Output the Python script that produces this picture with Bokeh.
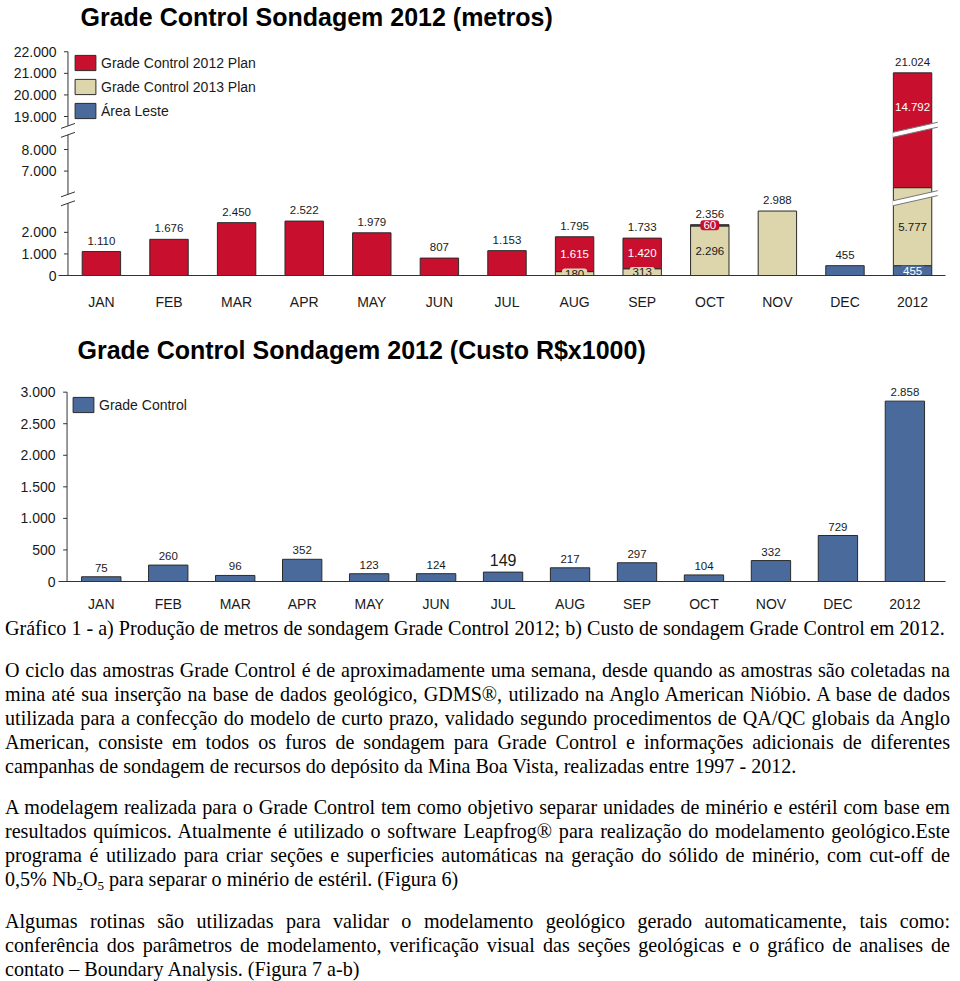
import numpy as np
from bokeh.plotting import figure
from bokeh.models import ColumnDataSource, FixedTicker, Legend, LegendItem, Range1d, Div
from bokeh.layouts import column
from bokeh.core.properties import value
from bokeh.embed import file_html
from bokeh.resources import INLINE

# ---------------- data ----------------
months = ["JAN", "FEB", "MAR", "APR", "MAY", "JUN", "JUL", "AUG", "SEP", "OCT", "NOV", "DEC", "2012"]
plan_2012 = [1110, 1676, 2450, 2522, 1979, 807, 1153, 1615, 1420, 60, 0, 0, 14792]
plan_2013 = [0, 0, 0, 0, 0, 0, 0, 180, 313, 2296, 2988, 0, 5777]
area_leste = [0, 0, 0, 0, 0, 0, 0, 0, 0, 0, 0, 455, 455]
meters_ticks = [0, 1000, 2000, 7000, 8000, 19000, 20000, 21000, 22000]
cost = [75, 260, 96, 352, 123, 124, 149, 217, 297, 104, 332, 729, 2858]
cost_ticks = [0, 500, 1000, 1500, 2000, 2500, 3000]
series_names = ["Área Leste", "Grade Control 2013 Plan", "Grade Control 2012 Plan"]
title_1 = "Grade Control Sondagem 2012 (metros)"
title_2 = "Grade Control Sondagem 2012 (Custo R$x1000)"
legend_2 = "Grade Control"
highlight_month = "JUL"

caption = "Gráfico 1 - a) Produção de metros de sondagem Grade Control 2012; b) Custo de sondagem Grade Control em 2012."
paragraphs = [
    ["O ciclo das amostras Grade Control é de aproximadamente uma semana, desde quando as amostras são coletadas na",
     "mina até sua inserção na base de dados geológico, GDMS®, utilizado na Anglo American Nióbio. A base de dados",
     "utilizada para a confecção do modelo de curto prazo, validado segundo procedimentos de QA/QC globais da Anglo",
     "American, consiste em todos os furos de sondagem para Grade Control e informações adicionais de diferentes",
     "campanhas de sondagem de recursos do depósito da Mina Boa Vista, realizadas entre 1997 - 2012."],
    ["A modelagem realizada para o Grade Control tem como objetivo separar unidades de minério e estéril com base em",
     "resultados químicos. Atualmente é utilizado o software Leapfrog® para realização do modelamento geológico.Este",
     "programa é utilizado para criar seções e superficies automáticas na geração do sólido de minério, com cut-off de",
     "0,5% Nb<sub>2</sub>O<sub>5</sub> para separar o minério de estéril. (Figura 6)"],
    ["Algumas rotinas são utilizadas para validar o modelamento geológico gerado automaticamente, tais como:",
     "conferência dos parâmetros de modelamento, verificação visual das seções geológicas e o gráfico de analises de",
     "contato – Boundary Analysis. (Figura 7 a-b)"],
]

# ---------------- styles ----------------
RED, TAN, BLUE = "#C8102E", "#DDD5AB", "#4A6A9B"
EDGE, INK = "#2a2a2a", "#1a1a1a"
SANS = "Liberation Sans"
SERIF = "'Liberation Serif', 'Times New Roman', serif"


def fmt(v):
    return f"{int(v):,}".replace(",", ".")


# broken value axis of the first chart: two hidden value bands
BRK_LO = (3554, 5714)
BRK_HI = (8886, 18356)
_kv = [0, BRK_LO[0], BRK_LO[1], BRK_HI[0], BRK_HI[1], 1e6]
_kd = [0, BRK_LO[0], BRK_LO[0], BRK_LO[0] + BRK_HI[0] - BRK_LO[1],
       BRK_LO[0] + BRK_HI[0] - BRK_LO[1], BRK_LO[0] + BRK_HI[0] - BRK_LO[1] + 1e6 - BRK_HI[1]]


def disp(v):
    return np.interp(np.asarray(v, dtype=float), _kv, _kd)


def style_title(p, text, offset, line_height=None):
    p.title.text = text
    p.title.align = "left"
    p.title.offset = offset
    p.title.standoff = 0
    if line_height is not None:
        p.title.text_line_height = line_height
    p.title.text_font = SANS
    p.title.text_font_size = "25px"
    p.title.text_font_style = "bold"
    p.title.text_color = "#000000"


def style_axes(p, xstandoff, ystandoff):
    p.xgrid.visible = False
    p.ygrid.visible = False
    p.outline_line_color = None
    p.xaxis.ticker = FixedTicker(ticks=list(range(len(months))))
    p.xaxis.major_label_overrides = {i: m for i, m in enumerate(months)}
    p.xaxis.major_tick_out = 0
    p.xaxis.major_tick_in = 0
    p.xaxis.axis_line_color = "#333333"
    p.xaxis.major_label_standoff = xstandoff
    p.yaxis.axis_line_color = None
    p.yaxis.major_tick_out = 0
    p.yaxis.major_tick_in = 0
    p.yaxis.major_label_standoff = ystandoff
    for ax in (p.xaxis, p.yaxis):
        ax.major_label_text_font = SANS
        ax.major_label_text_font_size = "14px"
        ax.major_label_text_color = INK


W = 960
x = np.arange(len(months))

# =============== chart 1 ===============
H1 = 318
FL1, FR1, FT1, FB1 = 56, 945, 28, 275
PX1, C1, U1 = 67.75, 99.0, 21.75 / 1000.0
p1 = figure(width=W, height=H1, output_backend="svg", toolbar_location=None,
            x_range=Range1d((FL1 - C1) / PX1, (FR1 - C1) / PX1),
            y_range=Range1d(0, (FB1 - FT1) / U1),
            min_border_left=FL1, min_border_right=W - FR1,
            min_border_top=FT1, min_border_bottom=H1 - FB1)
style_title(p1, title_1, 22, line_height=1.0)
style_axes(p1, 18, 2)
tick_disp = [int(round(float(disp(t)))) for t in meters_ticks]
p1.yaxis.ticker = FixedTicker(ticks=tick_disp)
p1.yaxis.major_label_overrides = {d: fmt(t) for d, t in zip(tick_disp, meters_ticks)}

# drawn axis line with breaks
AX1 = (65.5 - C1) / PX1
lo_c, hi_c = float(disp(BRK_LO[0])), float(disp(BRK_HI[1]))
GAP = 4.5 / U1
p1.segment(x0=[AX1] * 3, x1=[AX1] * 3,
           y0=[0, lo_c + GAP, hi_c + GAP],
           y1=[lo_c - GAP, hi_c - GAP, float(disp(max(meters_ticks)))],
           line_color="#333333", line_width=1)
p1.segment(x0=[AX1 - 4.0 / PX1] * len(tick_disp), x1=[AX1] * len(tick_disp),
           y0=tick_disp, y1=tick_disp, line_color="#333333", line_width=1)
brk_y = [lo_c - GAP, lo_c + GAP, hi_c - GAP, hi_c + GAP]
p1.segment(x0=[AX1 - 7.0 / PX1] * 4, x1=[AX1 + 7.0 / PX1] * 4,
           y0=[b - 2.5 / U1 for b in brk_y], y1=[b + 2.5 / U1 for b in brk_y],
           line_color="#333333", line_width=1)

# stacked bars
BAR_W1 = 38.5 / PX1
vals = [np.array(area_leste, float), np.array(plan_2013, float), np.array(plan_2012, float)]
fills = [BLUE, TAN, RED]
inks = ["#ffffff", INK, "#ffffff"]
bottom = np.zeros(len(months))
renderers = {}
segs = []
for name, v, col, ink in zip(series_names, vals, fills, inks):
    top = bottom + v
    m = v > 0
    src = ColumnDataSource(dict(x=x[m], bottom=disp(bottom[m]), top=disp(top[m])))
    renderers[name] = p1.vbar(x="x", width=BAR_W1, bottom="bottom", top="top", source=src,
                              fill_color=col, line_color=EDGE, line_width=1)
    segs.append((bottom.copy(), top.copy(), v, col, ink))
    bottom = top
totals = bottom

# break bands across bars that pass a break
S = PX1 * (10.0 / 44.0) / U1
HT = 2.5 / U1
bx, by, ex0, ey0, ex1, ey1 = [], [], [], [], [], []
for i in x:
    for c in (lo_c, hi_c):
        if float(disp(totals[i])) > c + 10 / U1:
            xl, xr = i - BAR_W1 / 2 - 0.5 / PX1, i + BAR_W1 / 2 + 6.0 / PX1
            yl, yr = c + (xl - i) * S, c + (xr - i) * S
            bx.append([xl, xr, xr, xl])
            by.append([yl - HT, yr - HT, yr + HT, yl + HT])
            ex0 += [xl, xl]; ex1 += [xr, xr]
            ey0 += [yl - HT, yl + HT]; ey1 += [yr - HT, yr + HT]
p1.patches(xs=bx, ys=by, fill_color="#ffffff", line_color=None)
p1.segment(x0=ex0, y0=ey0, x1=ex1, y1=ey1, line_color="#777777", line_width=1)

# total labels
p1.text(x=x, y=disp(totals) + 11 / U1, text=[fmt(t) for t in totals],
        text_align="center", text_baseline="middle", text_font=value(SANS),
        text_font_size="11.5px", text_color=INK)

# segment labels (only for bars made of several parts)
plain = dict(x=[], y=[], text=[], color=[])
boxed = dict(x=[], y=[], text=[], color=[], fill=[])
nparts = sum((s[2] > 0).astype(int) for s in segs)
for i in x:
    if nparts[i] < 2:
        continue
    for b, t, v, col, ink in segs:
        if v[i] <= 0:
            continue
        db, dt = float(disp(b[i])), float(disp(t[i]))
        ym = (db + dt) / 2
        if any(db < c < dt and abs(ym - c) * U1 < 20 for c in (lo_c, hi_c)):
            ym = dt - 34 / U1
        if (dt - db) * U1 < 16:
            boxed["x"].append(i); boxed["y"].append(ym); boxed["text"].append(fmt(v[i]))
            boxed["color"].append(ink); boxed["fill"].append(col)
        else:
            plain["x"].append(i); plain["y"].append(ym); plain["text"].append(fmt(v[i]))
            plain["color"].append(ink)
p1.text(x="x", y="y", text="text", text_color="color", source=ColumnDataSource(plain),
        text_align="center", text_baseline="middle", text_font=value(SANS), text_font_size="11.5px")
p1.text(x="x", y="y", text="text", text_color="color", source=ColumnDataSource(boxed),
        background_fill_color="fill", border_line_color=None, padding=(3, 1), border_radius=3,
        text_align="center", text_baseline="middle", text_font=value(SANS), text_font_size="11.5px")

leg1 = Legend(items=[LegendItem(label=n, renderers=[renderers[n]]) for n in reversed(series_names)],
              location=(14, 155), glyph_width=26, glyph_height=19, label_height=19, spacing=5,
              label_standoff=3, padding=0, margin=0, border_line_color=None,
              background_fill_alpha=0, label_text_font=SANS, label_text_font_size="14px",
              label_text_color=INK)
p1.add_layout(leg1)

# =============== chart 2 ===============
H2 = 296
FL2, FR2, FT2, FB2 = 58, 960, 45, 264
PX2, C2, U2 = 68.1, 101.5, 63.4 / 1000.0
p2 = figure(width=W, height=H2, output_backend="svg", toolbar_location=None,
            x_range=Range1d((FL2 - C2) / PX2, (FR2 - C2) / PX2),
            y_range=Range1d(0, (FB2 - FT2) / U2),
            min_border_left=FL2, min_border_right=W - FR2,
            min_border_top=FT2, min_border_bottom=H2 - FB2)
style_title(p2, title_2, 19)
style_axes(p2, 14, 3)
p2.yaxis.ticker = FixedTicker(ticks=cost_ticks)
p2.yaxis.major_label_overrides = {t: fmt(t) for t in cost_ticks}

AX2 = (66.7 - C2) / PX2
p2.segment(x0=[AX2], x1=[AX2], y0=[0], y1=[max(cost_ticks)], line_color="#333333", line_width=1)
p2.segment(x0=[AX2 - 4.0 / PX2] * len(cost_ticks), x1=[AX2] * len(cost_ticks),
           y0=cost_ticks, y1=cost_ticks, line_color="#333333", line_width=1)

src2 = ColumnDataSource(dict(x=x, top=cost))
r2 = p2.vbar(x="x", width=40.0 / PX2, bottom=0, top="top", source=src2,
             fill_color=BLUE, line_color=EDGE, line_width=1)
hl = [i for i, m in enumerate(months) if m == highlight_month]
nl = [i for i, m in enumerate(months) if m != highlight_month]
p2.text(x=nl, y=[cost[i] + 9 / U2 for i in nl], text=[fmt(cost[i]) for i in nl],
        text_align="center", text_baseline="middle", text_font=value(SANS),
        text_font_size="11.5px", text_color=INK)
p2.text(x=hl, y=[cost[i] + 12 / U2 for i in hl], text=[fmt(cost[i]) for i in hl],
        text_align="center", text_baseline="middle", text_font=value(SANS),
        text_font_size="16px", text_color=INK)

leg2 = Legend(items=[LegendItem(label=legend_2, renderers=[r2])],
              location=(12, 167), glyph_width=26, glyph_height=19, label_height=19, spacing=5,
              label_standoff=3, padding=0, margin=0, border_line_color=None,
              background_fill_alpha=0, label_text_font=SANS, label_text_font_size="14px",
              label_text_color=INK)
p2.add_layout(leg2)

# =============== text block ===============
def jline(t):
    return f'<div style="text-align:justify;text-align-last:justify;white-space:nowrap;">{t}</div>'


def lline(t):
    return f'<div style="text-align:left;white-space:nowrap;">{t}</div>'


parts = [f'<div style="margin:0;">{lline(caption)}</div>']
for k, para in enumerate(paragraphs):
    lines = "".join(jline(t) for t in para[:-1]) + lline(para[-1])
    parts.append(f'<div style="margin-top:{17 if k == 1 else 18}px;">{lines}</div>')
H3 = 981 - H1 - H2
html = (f'<div style="font-family:{SERIF};font-size:20.1px;line-height:24px;color:#000;'
        f'padding:2px 0 0 5px;width:950px;">' + "".join(parts) + '</div>')
html = html.replace("<sub>", '<sub style="font-size:13px;line-height:0;vertical-align:-4px;">')
div = Div(text=html, width=W, height=H3, margin=0, styles={"overflow": "visible"})

layout = column(p1, p2, div, spacing=0)
open("out.html", "w").write(file_html(layout, INLINE))
